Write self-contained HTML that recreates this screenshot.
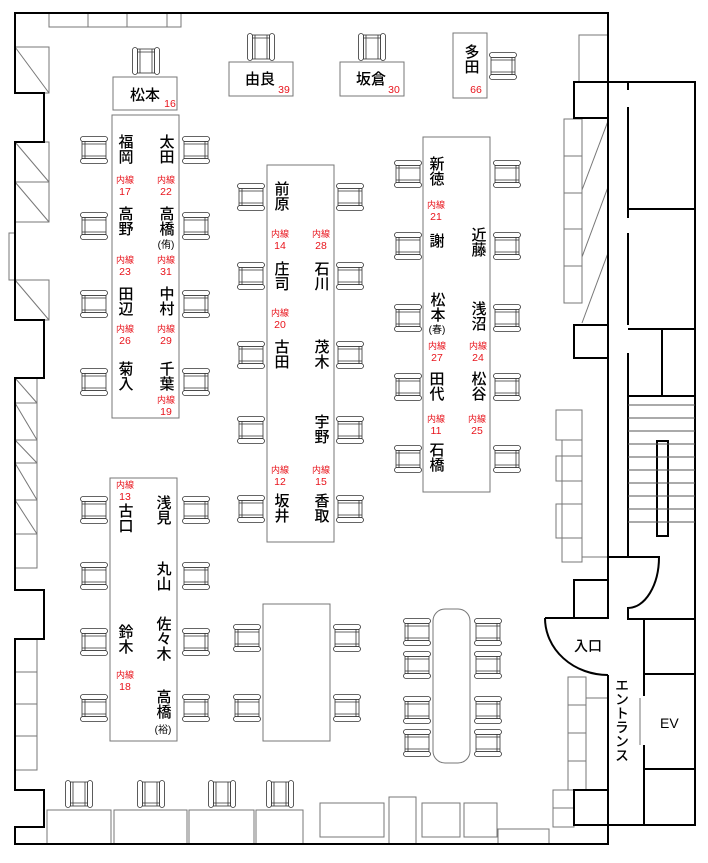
<!DOCTYPE html>
<html><head><meta charset="utf-8"><style>
html,body{margin:0;padding:0;background:#fff;}
svg{display:block;}
.n{font-family:"Liberation Sans","Noto Sans CJK JP",sans-serif;font-size:15px;fill:#000;writing-mode:vertical-rl;font-weight:500;}
.h{font-family:"Liberation Sans","Noto Sans CJK JP",sans-serif;font-size:15px;fill:#000;font-weight:500;}
.r{font-family:"Liberation Sans","Noto Sans CJK JP",sans-serif;font-size:9px;fill:#e8141c;text-anchor:middle;}
.rn{font-family:"Liberation Sans","Noto Sans CJK JP",sans-serif;font-size:10.5px;fill:#e8141c;text-anchor:middle;}
.s{font-family:"Liberation Sans","Noto Sans CJK JP",sans-serif;font-size:10px;fill:#000;text-anchor:middle;}
</style></head><body>
<svg width="708" height="863" viewBox="0 0 708 863" xmlns="http://www.w3.org/2000/svg">
<defs>
<g id="c">
<rect x="0.5" y="0.5" width="27" height="5" rx="2.5" fill="#fff" stroke="#333" stroke-width="0.8"/>
<rect x="0.5" y="22.5" width="27" height="5" rx="2.5" fill="#fff" stroke="#333" stroke-width="0.8"/>
<rect x="2" y="5.5" width="24" height="17" fill="#fff" stroke="#333" stroke-width="0.8"/>
<line x1="5" y1="5.5" x2="5" y2="22.5" stroke="#333" stroke-width="0.8"/>
<line x1="2" y1="8" x2="26" y2="8" stroke="#333" stroke-width="0.8"/>
<line x1="2" y1="20" x2="26" y2="20" stroke="#333" stroke-width="0.8"/>
</g>
<g id="cr"><use href="#c" transform="translate(28,0) scale(-1,1)"/></g>
<g id="cv"><use href="#c" transform="translate(28,0) rotate(90)"/></g>
<g id="cvd"><use href="#c" transform="translate(0,28) rotate(-90)"/></g>
</defs>
<g fill="none" stroke="#777" stroke-width="1">
<rect x="49" y="13" width="132" height="14"/><line x1="88" y1="13" x2="88" y2="27"/><line x1="127" y1="13" x2="127" y2="27"/><line x1="167" y1="13" x2="167" y2="27"/>
<rect x="15" y="47" width="34" height="46"/><line x1="15" y1="47" x2="49" y2="93"/>
<rect x="15" y="142" width="34" height="40"/><line x1="15" y1="142" x2="49" y2="182"/>
<rect x="15" y="182" width="34" height="40"/><line x1="15" y1="182" x2="49" y2="222"/>
<rect x="15" y="280" width="34" height="40"/><line x1="15" y1="280" x2="49" y2="320"/>
<rect x="9" y="233" width="6" height="47"/>
<rect x="15" y="378" width="22" height="190"/>
<line x1="15" y1="403" x2="37" y2="403"/><line x1="15" y1="463" x2="37" y2="463"/><line x1="15" y1="500" x2="37" y2="500"/><line x1="15" y1="534" x2="37" y2="534"/>
<line x1="15" y1="378" x2="37" y2="403"/><line x1="15" y1="403" x2="37" y2="440"/><line x1="15" y1="440" x2="37" y2="463"/><line x1="15" y1="463" x2="37" y2="500"/><line x1="15" y1="500" x2="37" y2="534"/>
<line x1="15" y1="440" x2="37" y2="440"/>
<rect x="15" y="639" width="22" height="131"/>
<line x1="15" y1="672" x2="37" y2="672"/><line x1="15" y1="704" x2="37" y2="704"/><line x1="15" y1="736" x2="37" y2="736"/>
<rect x="113" y="77" width="64" height="33"/>
<rect x="229" y="62" width="64" height="34"/>
<rect x="340" y="62" width="64" height="34"/>
<rect x="453" y="33" width="34" height="65"/>
<rect x="112" y="115" width="67" height="303"/>
<rect x="267" y="165" width="67" height="377"/>
<rect x="423" y="137" width="67" height="355"/>
<rect x="110" y="478" width="67" height="263"/>
<rect x="263" y="604" width="67" height="137"/>
<rect x="433" y="609" width="37" height="154" rx="12"/>
<rect x="47" y="810" width="64" height="34"/><rect x="114" y="810" width="73" height="34"/><rect x="189" y="810" width="65" height="34"/><rect x="256" y="810" width="47" height="34"/>
<rect x="320" y="803" width="64" height="34"/><rect x="389" y="797" width="27" height="47"/><rect x="422" y="803" width="38" height="34"/><rect x="464" y="803" width="33" height="34"/><rect x="498" y="829" width="51" height="15"/>
<rect x="553" y="790" width="21" height="18"/><rect x="553" y="808" width="21" height="19"/>
<rect x="579" y="35" width="29" height="47"/>
<rect x="564" y="119" width="18" height="184"/>
<line x1="564" y1="156" x2="582" y2="156"/><line x1="564" y1="193" x2="582" y2="193"/><line x1="564" y1="229" x2="582" y2="229"/><line x1="564" y1="266" x2="582" y2="266"/>
<line x1="582" y1="323" x2="608" y2="253"/><line x1="582" y1="257" x2="608" y2="187"/><line x1="582" y1="190" x2="608" y2="121"/>
<rect x="556" y="410" width="26" height="30"/>
<rect x="562" y="440" width="20" height="122"/>
<rect x="556" y="456" width="26" height="25"/><rect x="556" y="504" width="26" height="34"/>
<line x1="582" y1="557" x2="608" y2="557"/>
<rect x="568" y="677" width="18" height="113"/>
<line x1="568" y1="705" x2="586" y2="705"/><line x1="568" y1="733" x2="586" y2="733"/><line x1="568" y1="761" x2="586" y2="761"/>
<line x1="586" y1="698" x2="608" y2="698"/>
<line x1="640" y1="698" x2="640" y2="745"/>
</g>
<g fill="none" stroke="#000" stroke-width="2">
<polyline points="608,618 608,13 15,13 15,93 44,93 44,142 15,142 15,320 44,320 44,378 15,378 15,590 44,590 44,639 15,639 15,790 44,790 44,827 15,827 15,844 608,844 608,675"/>
<rect x="574" y="82" width="34" height="36"/>
<rect x="574" y="325" width="34" height="33"/>
<polyline points="608,82 695,82 695,825 608,825"/>
<line x1="628" y1="82" x2="628" y2="90"/><line x1="628" y1="107" x2="628" y2="218"/><line x1="628" y1="233" x2="628" y2="325"/><line x1="628" y1="353" x2="628" y2="557"/>
<line x1="628" y1="209" x2="695" y2="209"/>
<line x1="628" y1="329" x2="695" y2="329"/><line x1="662" y1="329" x2="662" y2="396"/>
<line x1="628" y1="396" x2="695" y2="396"/>
<path d="M608,557 L659,557 A31,51 0 0 1 628,608 L628,619 L695,619"/>
<line x1="644" y1="619" x2="644" y2="696"/><line x1="644" y1="745" x2="644" y2="825"/>
<line x1="644" y1="674" x2="695" y2="674"/><line x1="644" y1="769" x2="695" y2="769"/>
<rect x="574" y="580" width="34" height="38"/>
<path d="M545,618 L608,618 M608,675 A63,57 0 0 1 545,618"/>
<rect x="574" y="790" width="34" height="35"/>
<rect x="657" y="441" width="11" height="95"/>
</g>
<g stroke="#555" stroke-width="1">
<line x1="628" y1="405" x2="695" y2="405"/><line x1="628" y1="418" x2="695" y2="418"/><line x1="628" y1="431" x2="695" y2="431"/><line x1="628" y1="444" x2="695" y2="444"/><line x1="628" y1="457" x2="695" y2="457"/><line x1="628" y1="470" x2="695" y2="470"/><line x1="628" y1="483" x2="695" y2="483"/><line x1="628" y1="496" x2="695" y2="496"/><line x1="628" y1="509" x2="695" y2="509"/><line x1="628" y1="522" x2="695" y2="522"/>
</g>
<use href="#cv" x="132" y="47"/><use href="#cv" x="247" y="33"/><use href="#cv" x="358" y="33"/>
<use href="#cr" x="489" y="52"/>
<use href="#c" x="80" y="136"/><use href="#c" x="80" y="212"/><use href="#c" x="80" y="290"/><use href="#c" x="80" y="368"/>
<use href="#cr" x="182" y="136"/><use href="#cr" x="182" y="212"/><use href="#cr" x="182" y="290"/><use href="#cr" x="182" y="368"/>
<use href="#c" x="237" y="183"/><use href="#c" x="237" y="262"/><use href="#c" x="237" y="341"/><use href="#c" x="237" y="416"/><use href="#c" x="237" y="495"/>
<use href="#cr" x="336" y="183"/><use href="#cr" x="336" y="262"/><use href="#cr" x="336" y="341"/><use href="#cr" x="336" y="416"/><use href="#cr" x="336" y="495"/>
<use href="#c" x="394" y="160"/><use href="#c" x="394" y="232"/><use href="#c" x="394" y="304"/><use href="#c" x="394" y="373"/><use href="#c" x="394" y="445"/>
<use href="#cr" x="493" y="160"/><use href="#cr" x="493" y="232"/><use href="#cr" x="493" y="304"/><use href="#cr" x="493" y="373"/><use href="#cr" x="493" y="445"/>
<use href="#c" x="80" y="496"/><use href="#c" x="80" y="562"/><use href="#c" x="80" y="628"/><use href="#c" x="80" y="694"/>
<use href="#cr" x="182" y="496"/><use href="#cr" x="182" y="562"/><use href="#cr" x="182" y="628"/><use href="#cr" x="182" y="694"/>
<use href="#c" x="233" y="624"/><use href="#c" x="233" y="694"/><use href="#cr" x="333" y="624"/><use href="#cr" x="333" y="694"/>
<use href="#c" x="403" y="618"/><use href="#c" x="403" y="651"/><use href="#c" x="403" y="696"/><use href="#c" x="403" y="729"/>
<use href="#cr" x="474" y="618"/><use href="#cr" x="474" y="651"/><use href="#cr" x="474" y="696"/><use href="#cr" x="474" y="729"/>
<use href="#cvd" x="65" y="780"/><use href="#cvd" x="137" y="780"/><use href="#cvd" x="208" y="780"/><use href="#cvd" x="266" y="780"/>
<text class="h" x="130" y="100">松本</text><text class="rn" x="170" y="107">16</text>
<text class="h" x="245" y="84">由良</text><text class="rn" x="284" y="93">39</text>
<text class="h" x="356" y="84">坂倉</text><text class="rn" x="394" y="93">30</text>
<text class="n" x="471" y="44">多田</text><text class="rn" x="476" y="93">66</text>
<text class="n" x="125" y="134">福岡</text><text class="r" x="125" y="183">内線</text><text class="rn" x="125" y="195">17</text>
<text class="n" x="125" y="206">高野</text><text class="r" x="125" y="263">内線</text><text class="rn" x="125" y="275">23</text>
<text class="n" x="125" y="286">田辺</text><text class="r" x="125" y="332">内線</text><text class="rn" x="125" y="344">26</text>
<text class="n" x="125" y="361">菊入</text>
<text class="n" x="166" y="134">太田</text><text class="r" x="166" y="183">内線</text><text class="rn" x="166" y="195">22</text>
<text class="n" x="166" y="206">高橋</text><text class="s" x="166" y="248">(侑)</text><text class="r" x="166" y="263">内線</text><text class="rn" x="166" y="275">31</text>
<text class="n" x="166" y="286">中村</text><text class="r" x="166" y="332">内線</text><text class="rn" x="166" y="344">29</text>
<text class="n" x="166" y="361">千葉</text><text class="r" x="166" y="403">内線</text><text class="rn" x="166" y="415">19</text>
<text class="n" x="281" y="181">前原</text><text class="r" x="280" y="237">内線</text><text class="rn" x="280" y="249">14</text>
<text class="n" x="281" y="261">庄司</text><text class="r" x="280" y="316">内線</text><text class="rn" x="280" y="328">20</text>
<text class="n" x="281" y="339">古田</text>
<text class="r" x="280" y="473">内線</text><text class="rn" x="280" y="485">12</text><text class="n" x="281" y="493">坂井</text>
<text class="r" x="321" y="237">内線</text><text class="rn" x="321" y="249">28</text>
<text class="n" x="321" y="261">石川</text><text class="n" x="321" y="339">茂木</text><text class="n" x="321" y="414">宇野</text>
<text class="r" x="321" y="473">内線</text><text class="rn" x="321" y="485">15</text><text class="n" x="321" y="493">香取</text>
<text class="n" x="436" y="156">新徳</text><text class="r" x="436" y="208">内線</text><text class="rn" x="436" y="220">21</text>
<text class="n" x="436" y="233">謝</text>
<text class="n" x="437" y="292">松本</text><text class="s" x="437" y="333">(春)</text><text class="r" x="437" y="349">内線</text><text class="rn" x="437" y="361">27</text>
<text class="n" x="436" y="371">田代</text><text class="r" x="436" y="422">内線</text><text class="rn" x="436" y="434">11</text>
<text class="n" x="436" y="442">石橋</text>
<text class="n" x="478" y="227">近藤</text><text class="n" x="478" y="301">浅沼</text><text class="r" x="478" y="349">内線</text><text class="rn" x="478" y="361">24</text>
<text class="n" x="478" y="371">松谷</text><text class="r" x="477" y="422">内線</text><text class="rn" x="477" y="434">25</text>
<text class="r" x="125" y="488">内線</text><text class="rn" x="125" y="500">13</text><text class="n" x="125" y="503">古口</text>
<text class="n" x="125" y="624">鈴木</text><text class="r" x="125" y="678">内線</text><text class="rn" x="125" y="690">18</text>
<text class="n" x="163" y="495">浅見</text><text class="n" x="163" y="561">丸山</text><text class="n" x="163" y="616">佐々木</text>
<text class="n" x="163" y="689">高橋</text><text class="s" x="163" y="733">(裕)</text>
<text class="h" x="574" y="651" style="font-size:14px">入口</text>
<text class="n" x="622" y="678" style="font-size:14px">エントランス</text>
<text class="h" x="660" y="728" style="font-size:14px">EV</text>
</svg>
</body></html>
